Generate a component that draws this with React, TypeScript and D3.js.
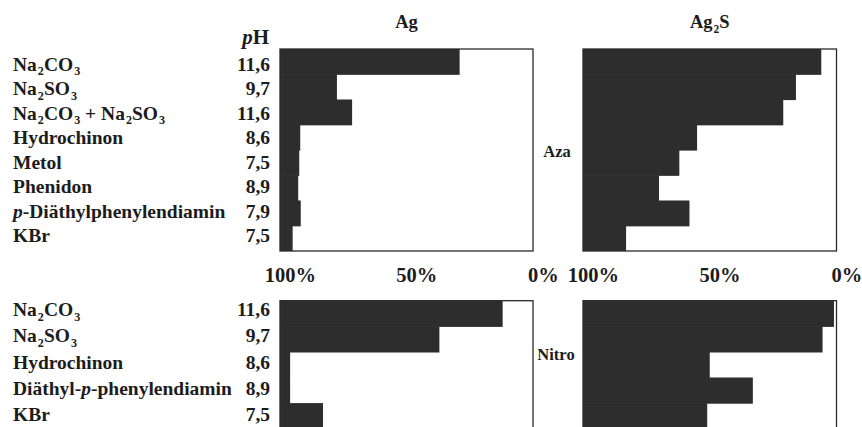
import React from "react";
import * as d3 from "d3";

// ---- data ----
const titles = ["Ag", "Ag_2S"];
const rowLabels = ["Aza", "Nitro"];
const azaCategories = [
  "Na_2CO_3",
  "Na_2SO_3",
  "Na_2CO_3 + Na_2SO_3",
  "Hydrochinon",
  "Metol",
  "Phenidon",
  "*p*-Diäthylphenylendiamin",
  "KBr",
];
const azaPH = ["11,6", "9,7", "11,6", "8,6", "7,5", "8,9", "7,9", "7,5"];
// value on the 100% → 0% axis where each bar ends
const azaAg = [29, 77.5, 71.5, 92, 92.4, 92.8, 91.8, 95];
const azaAg2S = [6, 16, 21, 55, 62, 70, 58, 83];

const nitroCategories = [
  "Na_2CO_3",
  "Na_2SO_3",
  "Hydrochinon",
  "Diäthyl-*p*-phenylendiamin",
  "KBr",
];
const nitroPH = ["11,6", "9,7", "8,6", "8,9", "7,5"];
const nitroAg = [12, 37, 96, 96, 83];
const nitroAg2S = [1, 5.5, 50, 33, 51];

const tickValues = [100, 50, 0];

// ---- helpers ----
const FONT = "'Liberation Serif', 'Times New Roman', serif";
const INK = "#1c1c1c";
const BAR = "#2d2d2d";

function RichText({ text, x, y, size, anchor = "start", weight = "bold" }: any) {
  const parts = text.split(/(_\d|\*[^*]+\*)/).filter((s: string) => s.length);
  let shifted = false;
  const sub = size * 0.25;
  return (
    <text x={x} y={y} fontFamily={FONT} fontSize={size} fontWeight={weight} fill={INK} textAnchor={anchor}>
      {parts.map((p: string, i: number) => {
        if (p.startsWith("_")) {
          const dy = shifted ? 0 : sub;
          shifted = true;
          return (
            <tspan key={i} dy={dy} fontSize={size * 0.62} dx={1}>
              {p.slice(1)}
            </tspan>
          );
        }
        const dy = shifted ? -sub : 0;
        shifted = false;
        if (p.startsWith("*")) {
          return (
            <tspan key={i} dy={dy} fontStyle="italic">
              {p.slice(1, -1)}
            </tspan>
          );
        }
        return (
          <tspan key={i} dy={dy}>
            {p}
          </tspan>
        );
      })}
    </text>
  );
}

function Panel({ values, x0, x1, y0, y1, rows }: any) {
  const x = d3.scaleLinear().domain([100, 0]).range([x0, x1]);
  const y = d3.scaleBand<number>().domain(d3.range(rows)).range([y0, y1]).padding(0);
  return (
    <g>
      <rect x={x0} y={y0} width={x1 - x0} height={y1 - y0} fill="#fff" />
      {values.map((v: number, i: number) => (
        <rect
          key={i}
          x={x(100)}
          y={y(i)}
          width={x(v) - x(100)}
          height={y.bandwidth() + (i < rows - 1 ? 0.6 : 0)}
          fill={BAR}
        />
      ))}
      <rect x={x0} y={y0} width={x1 - x0} height={y1 - y0} fill="none" stroke="#2a2a2a" strokeWidth={1.3} />
    </g>
  );
}

function Axis({ x0, x1, y }: any) {
  const x = d3.scaleLinear().domain([100, 0]).range([x0, x1]);
  const fs = 20.5;
  return (
    <g>
      {tickValues.map((t) => {
        const digits = String(t).length;
        return (
          <text key={t} x={x(t) - digits * 0.25 * fs} y={y} fontFamily={FONT} fontSize={fs} fontWeight="bold" fill={INK}>
            {t}%
          </text>
        );
      })}
    </g>
  );
}

function Labels({ cats, ph, yTop, yBot }: any) {
  const y = d3.scalePoint<number>().domain(d3.range(cats.length)).range([yTop, yBot]);
  return (
    <g>
      {cats.map((c: string, i: number) => (
        <RichText key={"c" + i} text={c} x={13} y={y(i)} size={19.5} />
      ))}
      {ph.map((p: string, i: number) => (
        <text key={"p" + i} x={270} y={y(i)} fontFamily={FONT} fontSize={19.5} fontWeight="bold" fill={INK} textAnchor="end">
          {p}
        </text>
      ))}
    </g>
  );
}

export default function App() {
  const L = [280, 533];
  const R = [583, 836.5];
  const top = [49, 251];
  const bot = [300.7, 428.7];
  return (
    <svg width={862} height={427} style={{ position: "absolute", left: 0, top: 0, background: "#fff" }}>
      <rect width={862} height={427} fill="#fff" />
      <RichText text={titles[0]} x={(L[0] + L[1]) / 2} y={28} size={18.5} anchor="middle" />
      <RichText text={titles[1]} x={(R[0] + R[1]) / 2} y={28} size={18.5} anchor="middle" />
      <text x={269} y={43.5} fontFamily={FONT} fontSize={21} fontWeight="bold" fill={INK} textAnchor="end">
        <tspan fontStyle="italic">p</tspan>H
      </text>

      <Labels cats={azaCategories} ph={azaPH} yTop={70.5} yBot={242} />
      <Panel values={azaAg} x0={L[0]} x1={L[1]} y0={top[0]} y1={top[1]} rows={azaCategories.length} />
      <Panel values={azaAg2S} x0={R[0]} x1={R[1]} y0={top[0]} y1={top[1]} rows={azaCategories.length} />
      <text x={557} y={157} fontFamily={FONT} fontSize={16.5} fontWeight="bold" fill={INK} textAnchor="middle">
        {rowLabels[0]}
      </text>

      <Axis x0={L[0]} x1={L[1]} y={282} />
      <Axis x0={R[0]} x1={R[1]} y={282} />

      <Labels cats={nitroCategories} ph={nitroPH} yTop={316} yBot={421} />
      <Panel values={nitroAg} x0={L[0]} x1={L[1]} y0={bot[0]} y1={bot[1]} rows={nitroCategories.length} />
      <Panel values={nitroAg2S} x0={R[0]} x1={R[1]} y0={bot[0]} y1={bot[1]} rows={nitroCategories.length} />
      <text x={556} y={360} fontFamily={FONT} fontSize={16.5} fontWeight="bold" fill={INK} textAnchor="middle">
        {rowLabels[1]}
      </text>
    </svg>
  );
}
